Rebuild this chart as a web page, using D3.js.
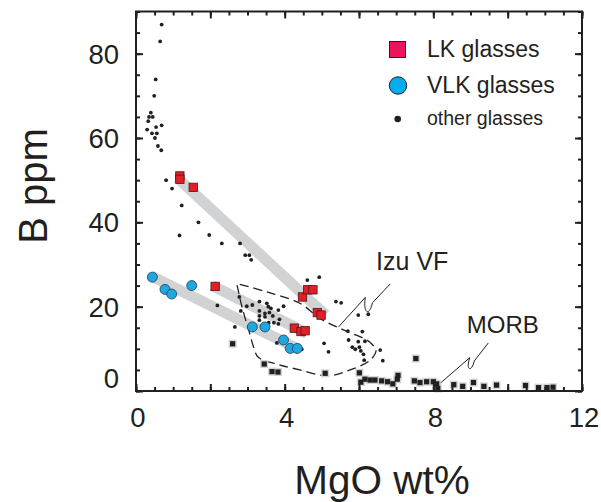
<!DOCTYPE html>
<html>
<head>
<meta charset="utf-8">
<script src="https://cdn.jsdelivr.net/npm/d3@7"></script>
<style>
body { margin: 0; background: #fff; }
text { font-family: "Liberation Sans", Arial, Helvetica, sans-serif; fill: #231f20; }
</style>
</head>
<body>
<script>

// data, [MgO wt%, B ppm] //
const lkGlasses = [
  [1.18, 51.0], [1.18, 50.2], [1.54, 48.3], [2.13, 24.8], [4.48, 22.3], [4.62, 24.0],
  [4.76, 24.0], [4.88, 18.6], [4.98, 18.0], [4.26, 14.9], [4.44, 14.1], [4.55, 14.3]
];

const vlkGlasses = [
  [0.44, 27.0], [0.78, 24.1], [0.96, 23.0], [1.50, 25.0], [3.13, 15.2], [3.47, 15.2],
  [3.97, 12.1], [4.15, 10.1], [4.34, 10.1]
];

const otherGlasses = [
  [0.69, 86.9], [0.65, 82.9], [0.53, 73.9], [0.49, 70.0], [0.40, 66.0], [0.35, 65.0],
  [0.45, 65.0], [0.33, 64.0], [0.69, 63.0], [0.30, 62.0], [0.54, 62.6], [0.43, 61.1],
  [0.56, 61.1], [0.51, 60.0], [0.59, 58.1], [0.68, 57.1],
  [0.81, 50.0], [0.97, 48.0], [1.23, 44.0], [1.68, 40.0], [1.17, 36.9], [1.97, 37.0],
  [2.31, 35.0], [2.80, 35.0], [2.94, 32.2], [3.05, 32.2], [3.10, 31.1],
  [2.19, 20.3], [2.66, 15.2], [3.79, 11.4], [4.61, 26.3], [4.93, 27.0], [2.78, 22.3],
  [2.98, 20.1], [3.13, 20.4], [3.32, 21.2], [3.52, 20.8], [3.56, 20.0], [3.63, 19.6],
  [3.83, 19.2], [3.97, 20.1], [2.82, 19.0], [3.32, 19.0], [3.47, 18.4], [3.59, 18.6],
  [3.47, 17.6], [3.68, 17.8], [3.32, 17.8], [3.86, 17.0], [3.32, 16.8], [3.71, 16.2],
  [3.57, 16.2], [3.83, 15.9], [4.46, 9.9], [5.06, 11.3], [5.18, 9.3],
  [5.38, 21.2], [5.52, 20.9], [5.98, 18.0], [6.25, 18.2], [5.70, 14.2], [6.09, 14.1],
  [5.72, 12.1], [5.98, 11.7], [6.16, 11.8], [5.82, 10.4], [5.90, 9.9], [6.01, 10.4],
  [6.05, 9.5], [6.12, 8.7], [6.57, 9.7], [6.64, 7.2], [6.14, 7.3]
];

const morbGlasses = [
  [2.60, 11.2], [3.45, 6.4], [3.66, 4.6], [3.82, 4.5], [5.09, 4.2], [6.01, 4.3],
  [6.05, 2.1], [6.16, 2.8], [6.30, 2.6], [6.43, 2.6], [6.61, 2.4], [6.77, 2.2],
  [6.91, 1.7], [7.03, 2.8], [7.05, 3.7], [7.53, 7.7], [7.49, 2.4], [7.64, 2.0],
  [7.82, 2.2], [8.00, 2.2], [8.09, 1.7], [8.12, 0.6], [8.55, 1.5], [8.79, 1.1],
  [9.08, 2.0], [9.36, 1.1], [9.70, 1.4], [10.48, 1.3], [10.83, 0.8], [11.06, 0.8],
  [11.22, 0.9]
];

// grey trend bands //
const trendBands = [
  [[1.12, 50.5], [5.10, 18.0]],
  [[2.05, 25.0], [4.60, 13.7]],
  [[0.40, 27.3], [4.40, 9.8]]
];

// dashed Izu VF field outline //
const izuField = [
  [2.72, 25.1], [2.85, 20.0], [3.07, 13.3], [3.16, 10.5], [3.29, 8.0], [3.79, 6.4],
  [4.41, 5.0], [5.18, 3.6], [5.76, 5.0], [6.30, 7.3], [6.46, 9.7], [6.35, 11.1],
  [6.21, 12.1], [5.58, 14.5], [4.95, 17.2], [4.41, 20.8], [3.52, 23.5], [2.75, 25.4]
];

// leader lines: start, bend, ctrl1, ctrl2, back, end //
const izuLeader = [[6.84, 25.4], [6.36, 20.9], [6.28, 17.6], [6.10, 18.4], [6.17, 22.2], [5.45, 15.2]];
const morbLeader = [[9.48, 11.4], [9.10, 7.1], [9.03, 4.3], [8.86, 4.9], [8.98, 7.9], [8.18, 1.8]];

const xTickLabels = [0, 4, 8, 12];
const yTickLabels = [0, 20, 40, 60, 80];


// set up //
const W = 601, H = 502;
const margin = { top: 11.5, left: 136 };
const width = 446, height = 379.5;

const svg = d3.select('body')
  .append('svg')
  .attr('width', W)
  .attr('height', H);

const g = svg.append('g')
  .attr('transform', 'translate(' + margin.left + ',' + margin.top + ')');

const x = d3.scaleLinear().domain([0, 12]).range([0, width]);
const y = d3.scaleLinear().domain([0, 90]).range([height, 0]);


// trend bands //
g.append('g')
  .selectAll('line')
  .data(trendBands)
  .join('line')
  .attr('x1', d => x(d[0][0]))
  .attr('y1', d => y(d[0][1]))
  .attr('x2', d => x(d[1][0]))
  .attr('y2', d => y(d[1][1]))
  .attr('stroke', '#d1d2d4')
  .attr('stroke-width', 11);

// Izu VF field //
g.append('path')
  .datum(izuField)
  .attr('fill', 'none')
  .attr('stroke', '#231f20')
  .attr('stroke-width', 1.3)
  .attr('stroke-dasharray', '9,5')
  .attr('d', d3.line().x(d => x(d[0])).y(d => y(d[1])).curve(d3.curveCatmullRom));

// leader lines //
function leaderPath(p) {
  const pt = d => x(d[0]) + ',' + y(d[1]);
  return 'M' + pt(p[0]) + 'L' + pt(p[1]) + 'C' + pt(p[2]) + ' ' + pt(p[3]) + ' ' + pt(p[4]) + 'L' + pt(p[5]);
}
g.selectAll('.leader')
  .data([izuLeader, morbLeader])
  .join('path')
  .attr('class', 'leader')
  .attr('fill', 'none')
  .attr('stroke', '#231f20')
  .attr('stroke-width', 1)
  .attr('d', leaderPath);

// MORB squares (halo then black) //
g.append('g')
  .selectAll('rect')
  .data(morbGlasses)
  .join('rect')
  .attr('x', d => x(d[0]) - 4)
  .attr('y', d => y(d[1]) - 4)
  .attr('width', 8)
  .attr('height', 8)
  .attr('fill', '#d4d4d4');
g.append('g')
  .selectAll('rect')
  .data(morbGlasses)
  .join('rect')
  .attr('x', d => x(d[0]) - 2.6)
  .attr('y', d => y(d[1]) - 2.6)
  .attr('width', 5.2)
  .attr('height', 5.2)
  .attr('fill', '#231f20');

// other glasses //
g.append('g')
  .selectAll('circle')
  .data(otherGlasses)
  .join('circle')
  .attr('cx', d => x(d[0]))
  .attr('cy', d => y(d[1]))
  .attr('r', 1.9)
  .attr('fill', '#231f20');

// VLK //
g.append('g')
  .selectAll('circle')
  .data(vlkGlasses)
  .join('circle')
  .attr('cx', d => x(d[0]))
  .attr('cy', d => y(d[1]))
  .attr('r', 5)
  .attr('fill', '#1fa8e0')
  .attr('stroke', '#1d3c55')
  .attr('stroke-width', 0.8);

// LK //
g.append('g')
  .selectAll('rect')
  .data(lkGlasses)
  .join('rect')
  .attr('x', d => x(d[0]) - 4.2)
  .attr('y', d => y(d[1]) - 4.2)
  .attr('width', 8.4)
  .attr('height', 8.4)
  .attr('fill', '#e31e26')
  .attr('stroke', '#4a1a1a')
  .attr('stroke-width', 0.8);


// axes, ticks inward on all 4 sides //
function ticksOn(axisFn, scale, minorStep, majorStep, max) {
  const minor = d3.range(0, max + 0.001, minorStep);
  const major = d3.range(0, max + 0.001, majorStep);
  return [
    axisFn(scale).tickValues(minor).tickSize(-4).tickFormat(''),
    axisFn(scale).tickValues(major).tickSize(-7).tickFormat('')
  ];
}

const axisSpecs = [
  { fn: d3.axisBottom, s: x, t: 'translate(0,' + height + ')', m: 0.5, M: 2, max: 12 },
  { fn: d3.axisTop, s: x, t: 'translate(0,0)', m: 0.5, M: 2, max: 12 },
  { fn: d3.axisLeft, s: y, t: 'translate(0,0)', m: 5, M: 20, max: 90 },
  { fn: d3.axisRight, s: y, t: 'translate(' + width + ',0)', m: 5, M: 20, max: 90 }
];
axisSpecs.forEach(a => {
  ticksOn(a.fn, a.s, a.m, a.M, a.max).forEach(ax => {
    const ag = g.append('g').attr('transform', a.t).call(ax);
    ag.select('.domain').remove();
    ag.selectAll('line').attr('stroke', '#231f20').attr('stroke-width', 2);
  });
});

g.append('rect')
  .attr('width', width)
  .attr('height', height)
  .attr('fill', 'none')
  .attr('stroke', '#231f20')
  .attr('stroke-width', 2);

// tick labels //
g.append('g')
  .selectAll('text')
  .data(xTickLabels)
  .join('text')
  .attr('x', d => x(d) + 2)
  .attr('y', height + 36)
  .attr('text-anchor', 'middle')
  .style('font-size', '27.5px')
  .text(d => d);

g.append('g')
  .selectAll('text')
  .data(yTickLabels)
  .join('text')
  .attr('x', -17)
  .attr('y', d => y(d) + (d === 0 ? -13 : 0))
  .attr('dy', '0.36em')
  .attr('text-anchor', 'end')
  .style('font-size', '27.5px')
  .text(d => d);

// axis titles //
svg.append('text')
  .attr('transform', 'translate(47,186) rotate(-90)')
  .attr('text-anchor', 'middle')
  .style('font-size', '40px')
  .text('B ppm');

svg.append('text')
  .attr('x', 382)
  .attr('y', 494)
  .attr('text-anchor', 'middle')
  .style('font-size', '40.5px')
  .text('MgO wt%');

// field labels //
g.append('text')
  .attr('x', x(6.46))
  .attr('y', y(28.7))
  .style('font-size', '25px')
  .text('Izu VF');

g.append('text')
  .attr('x', x(8.9))
  .attr('y', y(13.7))
  .style('font-size', '24px')
  .text('MORB');

// legend //
const legend = svg.append('g');
legend.append('rect')
  .attr('x', 389.5).attr('y', 41.5).attr('width', 16).attr('height', 16)
  .attr('fill', '#ec145a').attr('stroke', '#231f20').attr('stroke-width', 1);
legend.append('text').attr('x', 427).attr('y', 57).style('font-size', '23px').text('LK glasses');

legend.append('circle')
  .attr('cx', 398).attr('cy', 85.5).attr('r', 8.7)
  .attr('fill', '#00aeef').attr('stroke', '#231f20').attr('stroke-width', 1);
legend.append('text').attr('x', 427).attr('y', 93).style('font-size', '23px').text('VLK glasses');

legend.append('circle')
  .attr('cx', 397.7).attr('cy', 119).attr('r', 3.3)
  .attr('fill', '#231f20');
legend.append('text').attr('x', 427).attr('y', 125).style('font-size', '19.5px').text('other glasses');

</script>
</body>
</html>
